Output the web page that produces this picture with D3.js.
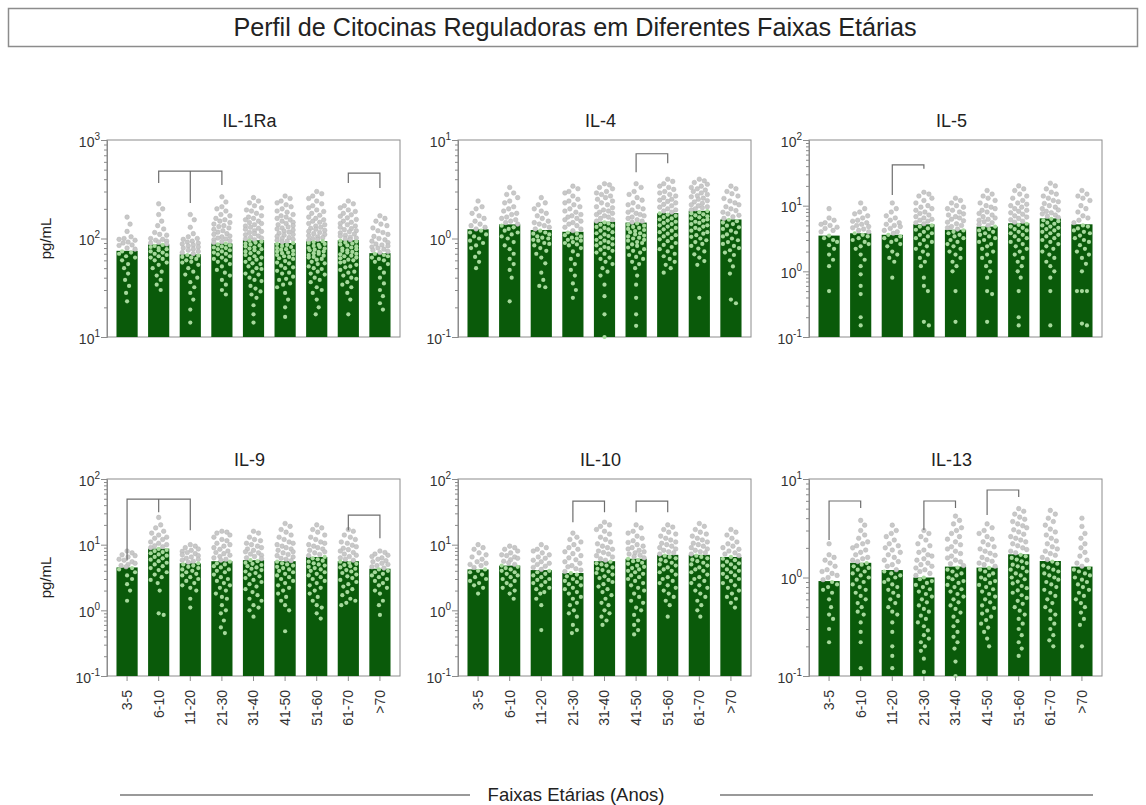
<!DOCTYPE html>
<html>
<head>
<meta charset="utf-8">
<title>Perfil de Citocinas Reguladoras</title>
<script src="https://cdnjs.cloudflare.com/ajax/libs/d3/7.8.5/d3.min.js"></script>
<style>
  body { margin: 0; background: #fff; font-family: "Liberation Sans", Arial, sans-serif; }
  .tick text { fill: #333; }
</style>
</head>
<body>
<div id="chart"></div>
<script>
var ageGroups = ["3-5", "6-10", "11-20", "21-30", "31-40", "41-50", "51-60", "61-70", ">70"];
var cytokines = ["IL-1Ra", "IL-4", "IL-5", "IL-9", "IL-10", "IL-13"];
// log axis ranges (min, max) per panel
var yDomains = [[10, 1000], [0.1, 10], [0.1, 100], [0.1, 100], [0.1, 100], [0.1, 10]];

// bar heights (means)
var meanIL1Ra = [75, 87, 69, 89, 96, 90, 94, 96, 71];
var meanIL4   = [1.24, 1.39, 1.22, 1.17, 1.48, 1.45, 1.81, 1.91, 1.56];
var meanIL5   = [3.5, 3.8, 3.6, 5.2, 4.3, 4.8, 5.4, 6.4, 5.2];
var meanIL9   = [4.5, 8.7, 5.2, 5.6, 5.8, 5.6, 6.5, 5.6, 4.3];
var meanIL10  = [4.2, 4.8, 4.1, 3.7, 5.6, 6.1, 7.0, 7.0, 6.5];
var meanIL13  = [0.92, 1.41, 1.19, 1.0, 1.29, 1.26, 1.72, 1.47, 1.29];

// individual points, one list per age group
var ptsIL1Ra = [
  [165,140,118,104,98,96,92,86,80,74,70,64,60,55,50,44,38,33,28,23,100,90,85,78,72,66],
  [225,200,175,150,135,125,115,108,100,96,92,88,84,80,76,72,68,64,60,57,54,50,46,42,38,34,30,110,98,94,90,86,82,78,74,70,66,62],
  [175,155,130,112,104,98,94,90,86,82,78,74,70,67,64,60,57,54,50,46,43,40,36,32,28,24,19,14,100,92,88,84,80,76,72,68,65,62,58],
  [265,235,210,190,175,160,150,140,132,124,116,110,104,99,95,91,87,83,80,76,72,69,66,62,58,55,52,48,45,42,38,34,30,27,200,170,155,145,135,128,120,112,106,101,97,93,89,85,81,78,74,70,64,60],
  [260,240,215,195,180,165,155,145,138,130,124,118,112,106,101,97,93,89,85,81,78,74,71,68,64,61,58,55,52,49,46,43,40,37,33,29,25,21,17,14,230,205,190,170,160,150,142,134,127,120,115,109,103,99,95,91,87,83,79,76,72,66,62,56,50,44,38,31,27],
  [270,240,220,200,185,170,160,150,142,135,128,122,116,110,105,100,96,92,88,84,80,77,74,71,68,65,62,59,56,53,50,47,44,41,38,35,32,28,24,20,16,255,230,210,190,175,165,155,146,138,131,125,119,113,108,102,98,94,90,86,82,78,75,72,69,66,63,57,51,45,39,34],
  [300,270,240,215,195,180,165,155,146,138,130,124,118,112,107,102,98,94,90,86,82,79,76,73,70,67,64,61,58,55,52,49,46,43,40,36,32,28,24,20,17,285,255,225,205,188,172,160,150,142,134,127,121,115,110,104,100,96,92,88,84,80,77,74,71,68,65,62,56,50,44,38,30],
  [240,215,195,180,168,156,146,138,130,123,117,111,106,101,97,93,89,85,81,78,75,72,69,66,63,60,57,54,51,48,45,42,39,36,32,28,24,17,225,205,188,174,162,150,142,134,126,120,114,108,103,99,95,91,87,83,79,76,73,70,67,64,61,58,52,46,40,34],
  [170,150,135,120,110,100,94,88,84,80,76,72,68,64,60,55,50,45,40,35,30,26,22,19,160,140,128,115,105,97,91,86,82,78,74,70,66,62,58]
];
var ptsIL4 = [
  [2.4,2.1,1.8,1.6,1.4,1.3,1.2,1.1,1.05,1.0,0.95,0.9,0.85,0.8,0.72,0.65,0.58,0.5,2.0,1.7,1.5,1.35,1.25,1.15],
  [3.3,2.9,2.6,2.3,2.1,1.9,1.75,1.6,1.5,1.4,1.3,1.2,1.1,1.0,0.92,0.85,0.78,0.7,0.62,0.55,0.48,0.4,0.23,2.8,2.4,2.0,1.8,1.65,1.55,1.45,1.35,1.25,1.15,1.05],
  [2.6,2.3,2.0,1.8,1.6,1.45,1.35,1.25,1.15,1.1,1.05,1.0,0.95,0.9,0.85,0.8,0.75,0.7,0.64,0.56,0.45,0.38,0.33,0.32,2.2,1.9,1.7,1.5,1.4,1.3,1.2,1.12,1.02,0.97,0.88],
  [3.4,3.0,2.7,2.4,2.2,2.0,1.85,1.7,1.6,1.5,1.4,1.3,1.2,1.12,1.05,1.0,0.95,0.9,0.85,0.8,0.74,0.68,0.62,0.55,0.48,0.42,0.35,0.3,0.25,3.2,2.9,2.5,2.3,2.1,1.9,1.75,1.65,1.55,1.45,1.35,1.25,1.15,1.08,1.02,0.97,0.92,0.87],
  [3.6,3.3,3.0,2.8,2.6,2.4,2.2,2.05,1.9,1.8,1.7,1.6,1.5,1.42,1.35,1.28,1.2,1.13,1.06,1.0,0.95,0.9,0.85,0.8,0.75,0.7,0.64,0.58,0.5,0.42,0.34,0.26,0.17,0.1,3.5,3.2,2.9,2.7,2.5,2.3,2.1,1.95,1.85,1.75,1.65,1.55,1.46,1.38,1.31,1.24,1.16,1.1,1.03,0.97,0.92,0.87,0.82,0.77,0.72,0.62,0.55,0.46],
  [3.6,3.0,2.6,2.3,2.1,1.95,1.8,1.7,1.6,1.5,1.42,1.35,1.28,1.22,1.16,1.1,1.05,1.0,0.95,0.9,0.84,0.78,0.72,0.65,0.58,0.5,0.42,0.34,0.25,0.17,0.13,3.3,2.8,2.45,2.2,2.0,1.85,1.75,1.65,1.55,1.46,1.38,1.31,1.25,1.19,1.13,1.07,1.02,0.97,0.92,0.87,0.81,0.75,0.68,0.62,0.55],
  [4.0,3.6,3.3,3.0,2.8,2.6,2.45,2.3,2.15,2.0,1.9,1.8,1.7,1.6,1.52,1.44,1.36,1.28,1.2,1.12,1.05,0.98,0.9,0.82,0.74,0.66,0.58,0.5,0.45,3.8,3.4,3.15,2.9,2.7,2.5,2.38,2.22,2.08,1.95,1.85,1.75,1.65,1.56,1.48,1.4,1.32,1.24,1.16,1.08,1.01,0.94,0.86,0.78,0.7,0.62,0.54],
  [4.0,3.7,3.4,3.2,3.0,2.8,2.65,2.5,2.35,2.2,2.1,2.0,1.9,1.8,1.72,1.64,1.56,1.48,1.4,1.32,1.24,1.16,1.08,1.0,0.92,0.84,0.74,0.64,0.54,0.25,3.85,3.55,3.3,3.1,2.9,2.72,2.57,2.42,2.28,2.15,2.05,1.95,1.85,1.76,1.68,1.6,1.52,1.44,1.36,1.28,1.2,1.12,1.04,0.96,0.88,0.79,0.69,0.59],
  [3.4,3.0,2.7,2.4,2.2,2.0,1.85,1.72,1.6,1.5,1.4,1.3,1.2,1.1,1.0,0.92,0.84,0.76,0.68,0.6,0.52,0.44,0.24,0.22,3.2,2.85,2.55,2.3,2.1,1.92,1.78,1.66,1.55,1.45,1.35,1.25,1.15,1.05,0.96,0.88,0.8,0.72]
];
var ptsIL5 = [
  [9,6.5,5.5,5,4.5,4,3.5,3,2.5,2.2,1.8,1.5,1.2,0.5,6,5.2,4.7,4.2,3.2,2.8],
  [11,8,7,6,5.5,5,4.6,4.2,3.8,3.4,3,2.6,2.2,1.8,1.5,1.2,0.9,0.6,0.45,0.2,0.15,9,7.5,6.5,5.8,5.2,4.8,4.4,4,3.6,3.2,2.8,2.4],
  [11,8,6.5,5.5,5,4.5,4,3.6,3.2,2.8,2.4,2,1.8,1.6,1.4,0.8,9,7,6,5.2,4.8,4.2,3.8,3.4,3,2.6],
  [16,14,12,10,9,8,7.2,6.5,6,5.5,5,4.5,4,3.6,3.2,2.8,2.4,2,1.6,1.2,0.8,0.6,0.5,0.17,0.15,15,13,11,9.5,8.5,7.6,6.8,6.2,5.8,5.3,4.8,4.3,3.8,3.4,3,2.6,2.2,1.8,1.4],
  [13,11,9.5,8.5,7.5,6.8,6.2,5.6,5,4.6,4.2,3.8,3.4,3,2.6,2.2,1.8,1.4,1,0.5,0.17,12,10,9,8,7.2,6.5,5.9,5.3,4.8,4.4,4,3.6,3.2,2.8,2.4,2,1.6,1.2],
  [17,14,12,10,9,8,7.2,6.5,6,5.5,5,4.6,4.2,3.8,3.4,3,2.6,2.2,1.8,1.4,1,0.8,0.5,0.45,0.17,15,13,11,9.5,8.5,7.6,6.8,6.2,5.7,5.2,4.8,4.4,4,3.6,3.2,2.8,2.4,2,1.6,1.2],
  [20,17,14,12,10.5,9.5,8.5,7.8,7,6.4,5.8,5.3,4.8,4.4,4,3.6,3.2,2.8,2.4,2,1.6,1.2,0.8,0.5,0.2,0.15,18,15,13,11,10,9,8.2,7.4,6.7,6.1,5.6,5.1,4.6,4.2,3.8,3.4,3,2.6,2.2,1.8,1.4,1],
  [22,18,15,13,11.5,10,9,8.2,7.5,6.9,6.3,5.8,5.3,4.8,4.4,4,3.6,3.2,2.8,2.4,2,1.6,1.2,0.8,0.5,0.15,20,16,14,12,10.8,9.5,8.6,7.8,7.2,6.6,6,5.5,5,4.6,4.2,3.8,3.4,3,2.6,2.2,1.8,1.4,1],
  [17,14,12,9,7,6,5,4.5,4,3.5,3,2.5,2,1.6,1.3,1,0.5,0.5,0.5,0.15,0.16,15,13,10,8,6.5,5.5,4.8,4.2,3.8,3.2,2.8,2.2,1.8]
];
var ptsIL9 = [
  [8,7,6.5,6,5.5,5,4.6,4.2,3.8,3.4,3,2.5,2,1.4,7.5,6.8,5.8,5.2,4.8,4.4],
  [26,20,16,14,12.5,11,10,9.3,8.6,8,7.4,6.8,6.2,5.6,5,4.4,3.8,3.2,2.6,2,0.9,0.85,18,15,13,12,10.5,9.6,9,8.3,7.7,7.1,6.5,5.9,5.3,4.7,4.1,3.5,2.9],
  [10,9,8.2,7.6,7,6.5,6,5.6,5.2,4.8,4.4,4,3.6,3.2,2.8,2.4,2,1.5,1.1,9.5,8.6,7.9,7.3,6.8,6.2,5.8,5.4,5,4.6,4.2,3.8,3.4,3,2.6,2.2],
  [16,15,13,11.5,10,9,8,7.3,6.6,6,5.5,5,4.5,4,3.5,3,2.6,2.2,1.8,1.5,1.2,1,0.9,0.7,0.55,0.45,15.5,14,12,10.5,9.5,8.5,7.6,6.9,6.3,5.8,5.2,4.7,4.2,3.8,3.2,2.8,2.4,2,1.6],
  [16,13,11.5,10,9,8.2,7.5,6.9,6.3,5.8,5.3,4.9,4.5,4.1,3.7,3.3,2.9,2.5,2.1,1.7,1.4,1.1,0.8,15,12,10.5,9.5,8.6,7.8,7.2,6.6,6.1,5.6,5.1,4.7,4.3,3.9,3.5,3.1,2.7,2.3,1.9,1.5,1.2,1],
  [21,17,14,12,10.5,9.5,8.6,7.8,7.1,6.5,6,5.5,5,4.6,4.2,3.8,3.4,3,2.6,2.2,1.8,1.4,1,0.48,19,15.5,13,11,10,9,8.2,7.5,6.8,6.2,5.7,5.2,4.8,4.4,4,3.6,3.2,2.8,2.4,2,1.6,1.2],
  [20,17,14,12,10.5,9.5,8.6,7.8,7.1,6.5,6,5.5,5,4.6,4.2,3.8,3.4,3,2.6,2.2,1.8,1.4,1.1,0.75,18,15.5,13,11,10,9,8.2,7.5,6.8,6.2,5.7,5.2,4.8,4.4,4,3.6,3.2,2.8,2.4,2,1.6,1.2,0.9],
  [17,14,12,10.5,9.3,8.4,7.6,6.9,6.3,5.8,5.3,4.9,4.5,4.1,3.7,3.3,2.9,2.5,2.1,1.7,1.4,1.2,16,13,11,9.8,8.8,8,7.2,6.6,6,5.5,5.1,4.7,4.3,3.9,3.5,3.1,2.7,2.3,1.9,1.5,1.3],
  [8,7.2,6.6,6,5.5,5,4.6,4.2,3.8,3.4,3,2.6,2.2,1.8,1.4,1.2,0.85,7.6,6.9,6.3,5.7,5.2,4.8,4.4,4,3.6,3.2,2.8,2.4,2]
];
var ptsIL10 = [
  [10,8.5,7,6,5.5,5,4.5,4,3.5,3,2.6,2.2,1.8,9,7.5,6.5,5.2,4.8,4.2,3.8,3.2,2.8,2.4],
  [9.5,8.5,7.5,6.8,6.2,5.6,5,4.6,4.2,3.8,3.4,3,2.6,2.2,1.8,1.5,9,8,7,6.5,5.9,5.3,4.8,4.4,4,3.6,3.2,2.8,2.4,2],
  [10,8.5,7.5,6.5,5.8,5.2,4.7,4.2,3.8,3.4,3,2.7,2.4,2.1,1.8,1.5,1.2,0.5,9,8,7,6.2,5.5,5,4.5,4,3.6,3.2,2.9,2.6,2.2,1.9],
  [15,12,10,8.5,7.3,6.3,5.5,4.8,4.3,3.9,3.5,3.1,2.8,2.5,2.2,1.9,1.6,1.3,1,0.8,0.6,0.5,0.45,13,11,9,7.8,6.8,5.9,5.2,4.6,4.1,3.7,3.3,3,2.7,2.4,2.1,1.8,1.5,1.2,0.9],
  [22,19,16,13,11,9.5,8.5,7.6,6.8,6.1,5.5,5,4.5,4.1,3.7,3.3,2.9,2.5,2.1,1.7,1.3,1,0.8,0.6,20,17,14.5,12,10.3,9,8,7.2,6.5,5.8,5.2,4.8,4.3,3.9,3.5,3.1,2.7,2.3,1.9,1.5,1.2,0.9,0.7],
  [20,16,13.5,11.5,10,9,8.2,7.5,6.9,6.3,5.8,5.3,4.8,4.4,4,3.6,3.2,2.8,2.4,2,1.6,1.3,1,0.7,0.5,0.43,18,15,12.5,10.8,9.5,8.6,7.8,7.2,6.6,6.1,5.6,5.1,4.6,4.2,3.8,3.4,3,2.6,2.2,1.8,1.4,1.1,0.85,0.6],
  [20,17,14.5,12.5,11,10,9,8.2,7.5,6.8,6.2,5.6,5,4.5,4,3.5,3,2.6,2.2,1.8,1.4,0.8,18.5,15.5,13.5,11.8,10.5,9.5,8.6,7.8,7.2,6.5,5.9,5.3,4.8,4.2,3.8,3.2,2.8,2.4,2,1.6,1.2],
  [21,17,14.5,12.5,11,10,9,8.2,7.5,6.8,6.2,5.6,5,4.5,4,3.5,3,2.6,2.2,1.8,1.4,1,0.8,19,15.5,13.5,11.8,10.5,9.5,8.6,7.8,7.2,6.5,5.9,5.3,4.8,4.2,3.8,3.2,2.8,2.4,2,1.6,1.2],
  [17,14,11,9.5,8.5,7.5,6.8,6.1,5.5,5,4.5,4,3.6,3.2,2.8,2.4,2,1.6,1.3,1.1,15.5,12.5,10.3,9,8,7.2,6.5,5.8,5.2,4.8,4.2,3.8,3.4,3,2.6,2.2,1.8,1.5]
];
var ptsIL13 = [
  [2.2,1.6,1.4,1.2,1.1,1,0.9,0.8,0.7,0.6,0.5,0.42,0.38,0.3,0.22,1.7,1.5,1.3,1.15,1.05,0.95,0.85,0.75],
  [3.8,3,2.5,2.2,2,1.8,1.6,1.5,1.4,1.3,1.2,1.1,1,0.9,0.8,0.7,0.6,0.5,0.42,0.35,0.28,0.22,0.12,3.4,2.7,2.3,2.1,1.9,1.7,1.55,1.45,1.35,1.25,1.15,1.05,0.95,0.85,0.75,0.65,0.55,0.45],
  [3.4,2.8,2.4,2.1,1.9,1.7,1.5,1.35,1.2,1.1,1,0.9,0.8,0.7,0.6,0.5,0.42,0.35,0.28,0.2,0.16,0.12,3,2.6,2.2,2,1.8,1.6,1.45,1.3,1.15,1.05,0.95,0.85,0.75,0.65,0.55,0.45],
  [3.0,2.6,2.2,1.9,1.7,1.55,1.4,1.3,1.2,1.1,1,0.92,0.84,0.76,0.68,0.6,0.52,0.45,0.38,0.32,0.26,0.22,0.18,0.15,0.11,2.8,2.4,2.1,1.8,1.65,1.5,1.35,1.25,1.15,1.05,0.96,0.88,0.8,0.72,0.64,0.56,0.48,0.41,0.35,0.29,0.24,0.2],
  [4.2,3.5,3,2.6,2.3,2.05,1.85,1.65,1.5,1.38,1.26,1.15,1.05,0.96,0.88,0.8,0.72,0.64,0.56,0.48,0.4,0.32,0.25,0.19,0.14,0.1,3.8,3.2,2.8,2.45,2.15,1.95,1.75,1.58,1.44,1.32,1.2,1.1,1,0.92,0.84,0.76,0.68,0.6,0.52,0.44,0.36,0.28,0.22],
  [3.5,3,2.6,2.3,2.05,1.85,1.68,1.52,1.4,1.3,1.2,1.1,1,0.92,0.84,0.76,0.68,0.6,0.52,0.46,0.4,0.34,0.28,0.2,3.2,2.8,2.45,2.15,1.95,1.76,1.6,1.46,1.35,1.25,1.15,1.05,0.96,0.88,0.8,0.72,0.64,0.56,0.49,0.43,0.37,0.31,0.24],
  [5,4.4,3.9,3.5,3.2,2.9,2.6,2.4,2.2,2,1.85,1.7,1.58,1.46,1.35,1.25,1.15,1.05,0.96,0.87,0.78,0.7,0.62,0.54,0.46,0.38,0.3,0.22,0.16,4.7,4.1,3.7,3.35,3.05,2.75,2.5,2.3,2.1,1.92,1.78,1.64,1.52,1.4,1.3,1.2,1.1,1,0.91,0.82,0.74,0.66,0.58,0.5,0.42,0.34,0.26,0.19],
  [4.8,4,3.4,2.9,2.5,2.2,1.95,1.75,1.6,1.45,1.32,1.2,1.1,1,0.9,0.8,0.7,0.6,0.5,0.42,0.34,0.26,0.2,4.4,3.7,3.1,2.7,2.35,2.05,1.85,1.68,1.52,1.38,1.26,1.15,1.05,0.95,0.85,0.75,0.65,0.55,0.46,0.38,0.3,0.23],
  [4,2.8,2.2,1.8,1.5,1.3,1.2,1.1,1,0.9,0.8,0.7,0.6,0.5,0.38,0.33,0.2,3.3,2.5,2,1.65,1.4,1.25,1.15,1.05,0.95,0.85,0.75,0.65,0.55,0.44]
];

// significance brackets: [from group, to group, middle group or -1, bar value, left leg end, middle leg end, right leg end]
var bracketsIL1Ra = [[1, 3, 2, 484, 366, 229, 349], [7, 8, -1, 462, 366, 0, 326]];
var bracketsIL4   = [[5, 6, -1, 7.25, 4.7, 0, 5.8]];
var bracketsIL5   = [[2, 3, -1, 41.8, 14.5, 0, 36.4]];
var bracketsIL9   = [[0, 2, 1, 49.4, 5.75, 31.2, 16.6], [7, 8, -1, 28.1, 16.6, 0, 12.5]];
var bracketsIL10  = [[3, 4, -1, 46, 22, 0, 31.2], [5, 6, -1, 46, 31.2, 0, 31.2]];
var bracketsIL13  = [[0, 1, -1, 5.98, 2.4, 0, 5.08], [3, 4, -1, 5.98, 3.04, 0, 5.08], [5, 6, -1, 7.73, 4.31, 0, 6.56]];

var means = [meanIL1Ra, meanIL4, meanIL5, meanIL9, meanIL10, meanIL13];
var points = [ptsIL1Ra, ptsIL4, ptsIL5, ptsIL9, ptsIL10, ptsIL13];
var brackets = [bracketsIL1Ra, bracketsIL4, bracketsIL5, bracketsIL9, bracketsIL10, bracketsIL13];

var W = 1146, H = 805;
var panelLeft = [107, 458, 809], panelW = 293;
var rowTop = [140, 479], panelH = 197;
var barColor = "#0a5a0a", axisColor = "#8c8c8c";

var svg = d3.select("#chart").append("svg")
    .attr("width", W).attr("height", H);

// title box
svg.append("rect")
    .attr("x", 8.5).attr("y", 8.5).attr("width", 1129).attr("height", 38)
    .attr("fill", "#fff").attr("stroke", axisColor).attr("stroke-width", 1.5);
svg.append("text")
    .attr("x", 575).attr("y", 36)
    .attr("text-anchor", "middle")
    .attr("font-size", 25.2).attr("fill", "#222")
    .text("Perfil de Citocinas Reguladoras em Diferentes Faixas Etárias");

var x = d3.scaleBand().domain(ageGroups).range([0, panelW])
    .paddingInner(0.33).paddingOuter(0.3);

function supFormat(sel) {
  sel.each(function(d) {
    var t = d3.select(this).text("");
    t.append("tspan").text("10");
    t.append("tspan").attr("dy", -7).attr("font-size", 10).text(Math.round(Math.log10(d)));
  });
}

// beeswarm: place each dot as close to the bar centre as it fits,
// using a tall collision ellipse so the cloud spreads across the bar
function swarm(vals, y, halfW, dx0, dy0) {
  var placed = [];
  vals.slice().sort(function(a, b) { return b - a; }).forEach(function(v) {
    var cy = y(v), best = 0, bestCost = Infinity;
    for (var k = 0; k <= halfW * 2; k++) {
      var dx = (k % 2 ? 1 : -1) * Math.ceil(k / 2);
      if (Math.abs(dx) > halfW) continue;
      var cost = 0;
      placed.forEach(function(p) {
        var a = (p.dx - dx) / dx0, b = (p.cy - cy) / dy0;
        var q = a * a + b * b;
        if (q < 1) cost += 1 - q;
      });
      if (cost < bestCost - 1e-6) { bestCost = cost; best = dx; }
      if (cost === 0) break;
    }
    placed.push({ v: v, dx: best, cy: cy });
  });
  return placed;
}

cytokines.forEach(function(name, i) {
  var row = Math.floor(i / 3), col = i % 3;
  var g = svg.append("g")
      .attr("transform", "translate(" + panelLeft[col] + "," + rowTop[row] + ")");

  var y = d3.scaleLog().domain(yDomains[i]).range([panelH, 0]);
  var lo = Math.log10(yDomains[i][0]), hi = Math.log10(yDomains[i][1]);
  var majors = d3.range(lo, hi + 1).map(function(e) { return Math.pow(10, e); });
  var minors = [];
  d3.range(lo, hi).forEach(function(e) {
    for (var m = 2; m <= 9; m++) minors.push(m * Math.pow(10, e));
  });

  // frame
  g.append("rect").attr("x", 0).attr("y", 0).attr("width", panelW).attr("height", panelH)
      .attr("fill", "none").attr("stroke", axisColor).attr("stroke-width", 1);

  // bars
  g.selectAll(".bar").data(means[i]).enter().append("rect")
      .attr("x", function(d, j) { return x(ageGroups[j]); })
      .attr("y", function(d) { return y(d); })
      .attr("width", x.bandwidth())
      .attr("height", function(d) { return panelH - y(d); })
      .attr("fill", barColor);

  // dots
  var r = 2.3;
  points[i].forEach(function(vals, j) {
    var cx0 = x(ageGroups[j]) + x.bandwidth() / 2;
    var dots = swarm(vals, y, x.bandwidth() / 2 - 2, 4.6, 8);
    g.append("g").selectAll("circle").data(dots).enter().append("circle")
        .attr("cx", function(d) { return cx0 + d.dx; })
        .attr("cy", function(d) { return d.cy; })
        .attr("r", function(d) { return d.v <= means[i][j] ? r - 0.2 : r; })
        .attr("fill", function(d) { return d.v <= means[i][j] ? "#a6d99c" : "#c8c8c8"; })
        .attr("stroke", function(d) { return d.v <= means[i][j] ? "none" : "#b4b4b4"; })
        .attr("stroke-width", 0.5);
  });

  // significance brackets
  brackets[i].forEach(function(b) {
    var x1 = x(ageGroups[b[0]]) + x.bandwidth() / 2;
    var x2 = x(ageGroups[b[1]]) + x.bandwidth() / 2;
    var yb = y(b[3]);
    var path = "M" + x1 + "," + y(b[4]) + "V" + yb + "H" + x2 + "V" + y(b[6]);
    if (b[2] >= 0) {
      var xm = x(ageGroups[b[2]]) + x.bandwidth() / 2;
      path += "M" + xm + "," + yb + "V" + y(b[5]);
    }
    g.append("path").attr("d", path).attr("fill", "none")
        .attr("stroke", "#6e6e6e").attr("stroke-width", 1.2);
  });

  // y axis with decade labels and minor ticks
  var yAxis = g.append("g")
      .call(d3.axisLeft(y).tickValues(majors).tickSize(6).tickFormat(""));
  yAxis.selectAll(".tick text").remove();
  yAxis.selectAll(".tick").append("text")
      .attr("x", -7).attr("dy", "0.45em")
      .attr("text-anchor", "end").attr("font-size", 14).attr("fill", "#333")
      .call(supFormat);
  g.append("g")
      .call(d3.axisLeft(y).tickValues(minors).tickSize(3).tickFormat(""))
      .call(function(s) { s.select(".domain").remove(); });
  g.selectAll(".domain, .tick line").attr("stroke", axisColor);

  // panel title
  g.append("text")
      .attr("x", panelW / 2 - 4).attr("y", -13)
      .attr("text-anchor", "middle").attr("font-size", 18).attr("fill", "#222")
      .text(name);

  if (col === 0) {
    g.append("text")
        .attr("transform", "translate(-56," + panelH / 2 + ") rotate(-90)")
        .attr("text-anchor", "middle").attr("font-size", 15).attr("fill", "#222")
        .text("pg/mL");
  }

  // x axis labels only under the bottom row
  if (row === 1) {
    var xAxis = g.append("g")
        .attr("transform", "translate(0," + panelH + ")")
        .call(d3.axisBottom(x).tickSize(5).tickSizeOuter(0));
    xAxis.select(".domain").remove();
    xAxis.selectAll(".tick line").attr("stroke", axisColor);
    xAxis.selectAll(".tick text")
        .attr("font-size", 14).attr("fill", "#333")
        .attr("text-anchor", "end")
        .attr("transform", "translate(0,14) rotate(-90)")
        .attr("x", 0).attr("y", 0).attr("dy", "0.35em");
  }
});

// shared x axis title with side rules
svg.append("line").attr("x1", 120).attr("x2", 470).attr("y1", 795).attr("y2", 795)
    .attr("stroke", "#999").attr("stroke-width", 2);
svg.append("line").attr("x1", 720).attr("x2", 1093).attr("y1", 795).attr("y2", 795)
    .attr("stroke", "#999").attr("stroke-width", 2);
svg.append("text")
    .attr("x", 576).attr("y", 801)
    .attr("text-anchor", "middle").attr("font-size", 18.5).attr("fill", "#222")
    .text("Faixas Etárias (Anos)");
</script>
</body>
</html>
